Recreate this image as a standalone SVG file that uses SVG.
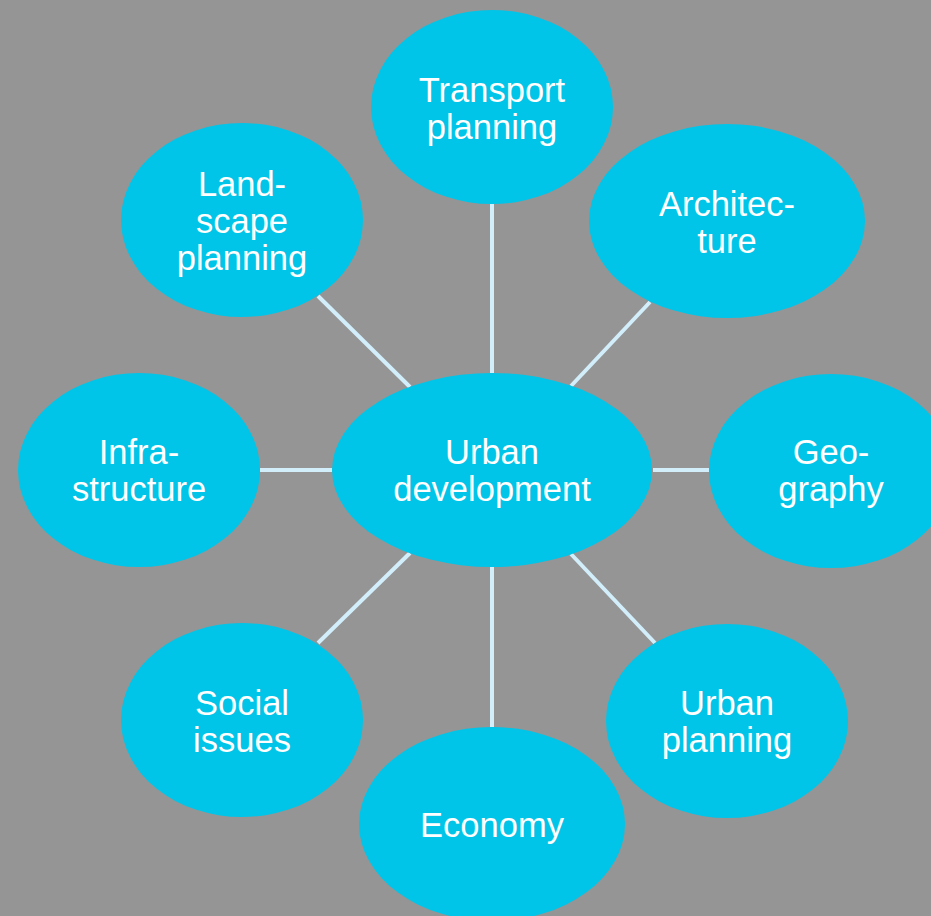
<svg xmlns="http://www.w3.org/2000/svg" width="931" height="916" viewBox="0 0 931 916">
<style>
.n{fill:#00C5E8}
.t{fill:#fff;font-family:"Liberation Sans",Arial,sans-serif;font-size:34.5px;text-anchor:middle}
.c{stroke:#D2EEFB;stroke-width:4;fill:none}
</style>
<rect width="931" height="916" fill="#959595"/>
<g id="connectors" class="c">
<line x1="492" y1="204" x2="492" y2="373"/>
<line x1="650" y1="302" x2="571" y2="386"/>
<line x1="653" y1="470" x2="709" y2="470"/>
<line x1="571" y1="554" x2="655" y2="643"/>
<line x1="492" y1="567" x2="492" y2="727"/>
<line x1="410" y1="553" x2="318" y2="643"/>
<line x1="260" y1="470" x2="332" y2="470"/>
<line x1="318" y1="296" x2="410" y2="387"/>
</g>
<g id="center"><ellipse class="n" cx="492" cy="470" rx="160" ry="97"/><text class="t" x="492" y="464">Urban</text><text class="t" x="492" y="501">development</text></g>
<g id="transport"><ellipse class="n" cx="492" cy="107" rx="121" ry="97"/><text class="t" x="492" y="102">Transport</text><text class="t" x="492" y="139">planning</text></g>
<g id="architecture"><ellipse class="n" cx="727" cy="221" rx="138" ry="97"/><text class="t" x="727" y="216">Architec-</text><text class="t" x="727" y="253">ture</text></g>
<g id="geography"><ellipse class="n" cx="831" cy="471" rx="122" ry="97"/><text class="t" x="831" y="464">Geo-</text><text class="t" x="831" y="501">graphy</text></g>
<g id="urbanplanning"><ellipse class="n" cx="727" cy="721" rx="121" ry="97"/><text class="t" x="727" y="715">Urban</text><text class="t" x="727" y="752">planning</text></g>
<g id="economy"><ellipse class="n" cx="492" cy="824" rx="133" ry="97"/><text class="t" x="492" y="837">Economy</text></g>
<g id="social"><ellipse class="n" cx="242" cy="720" rx="121" ry="97"/><text class="t" x="242" y="715">Social</text><text class="t" x="242" y="752">issues</text></g>
<g id="infrastructure"><ellipse class="n" cx="139" cy="470" rx="121" ry="97"/><text class="t" x="139" y="464">Infra-</text><text class="t" x="139" y="501">structure</text></g>
<g id="landscape"><ellipse class="n" cx="242" cy="220" rx="121" ry="97"/><text class="t" x="242" y="196">Land-</text><text class="t" x="242" y="233">scape</text><text class="t" x="242" y="270">planning</text></g>
</svg>
